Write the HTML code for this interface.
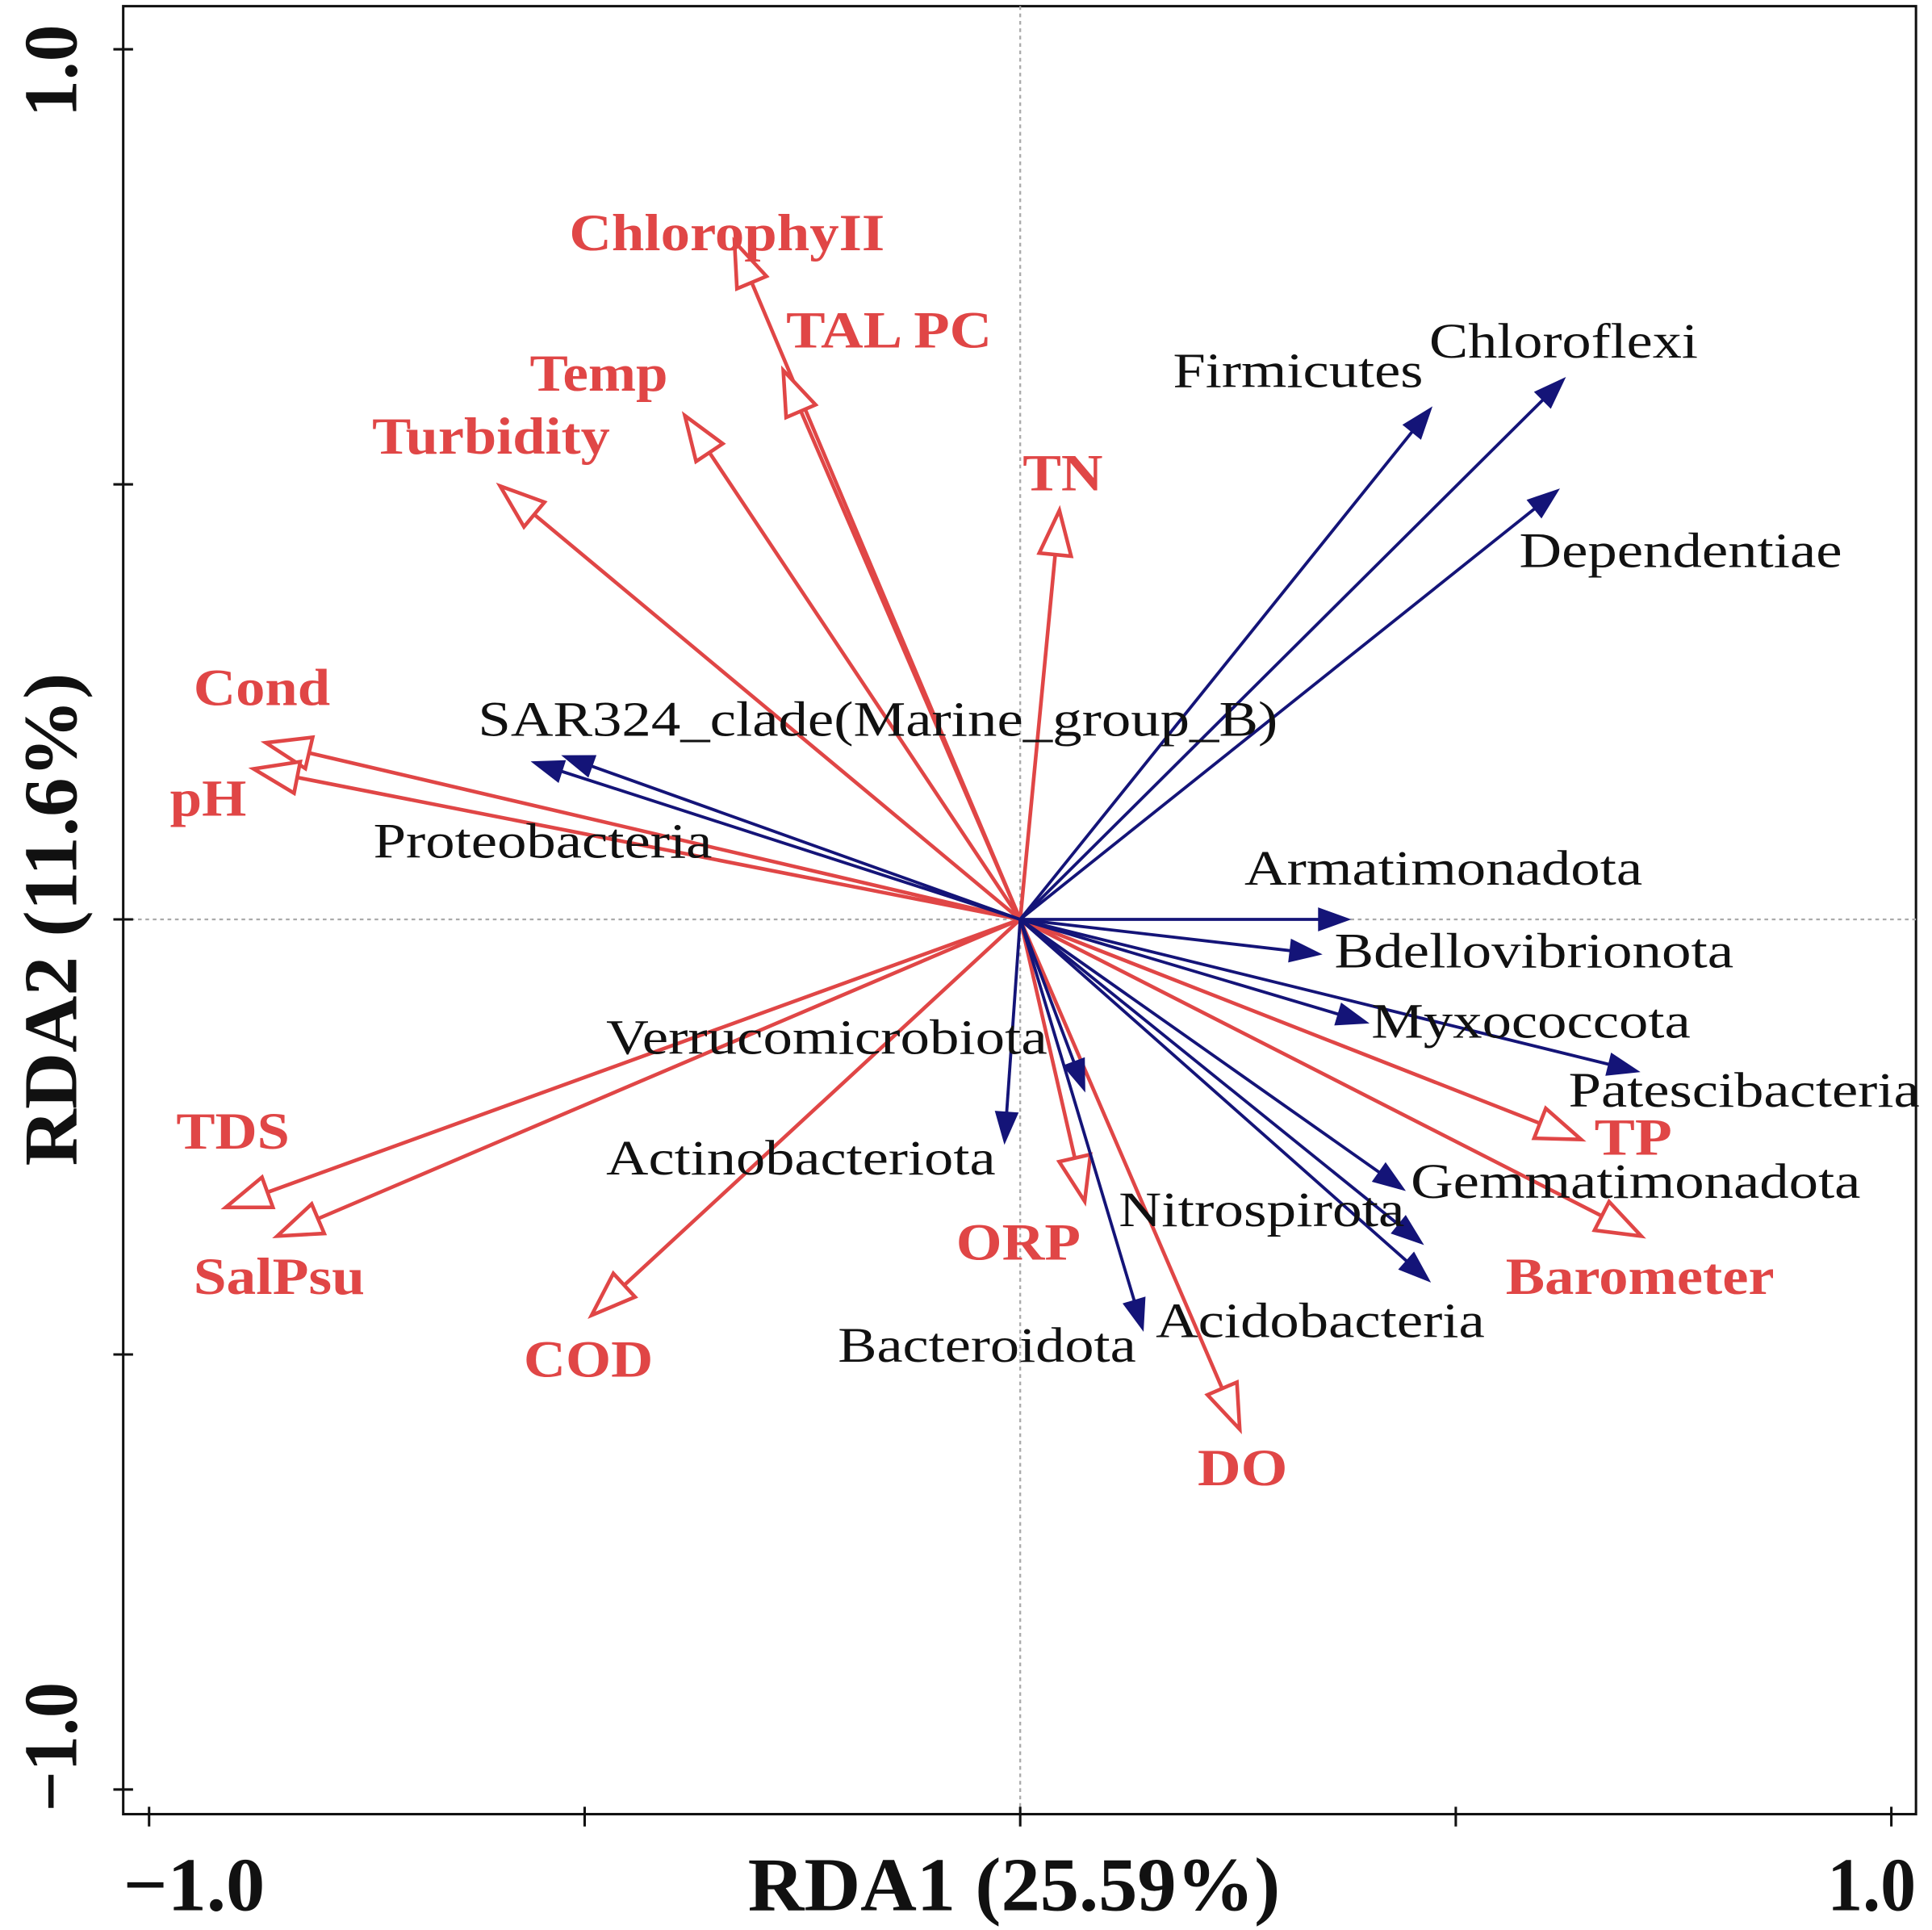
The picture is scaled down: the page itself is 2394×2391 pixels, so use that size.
<!DOCTYPE html>
<html><head><meta charset="utf-8"><style>
html,body{margin:0;padding:0;background:#fff}
svg{display:block}
.red{font-family:"Liberation Serif",serif;font-weight:bold;fill:#e04646;font-size:42px}
.blk{font-family:"Liberation Serif",serif;fill:#111;font-size:40px}
.ax{font-family:"Liberation Serif",serif;font-weight:bold;fill:#111;font-size:62px}
</style></head><body>
<svg id="chart" width="2394" height="2391" viewBox="0 0 1568 1566" preserveAspectRatio="none" xmlns="http://www.w3.org/2000/svg">
<rect x="100" y="5" width="1455" height="1467" fill="none" stroke="#111" stroke-width="2"/>
<g id="axes"></g>
<g id="arrows"></g>
<g id="labels"></g>
</svg>
<script>
const envNames=["ChlorophyII","TAL PC","Temp","Turbidity","TN","Cond","pH","TDS","SalPsu","COD","ORP","DO","TP","Barometer"];
const envX=[-0.328,-0.272,-0.385,-0.597,0.045,-0.866,-0.880,-0.912,-0.853,-0.492,0.074,0.252,0.644,0.713];
const envY=[0.779,0.631,0.579,0.498,0.470,0.203,0.173,-0.331,-0.364,-0.455,-0.324,-0.586,-0.253,-0.364];
const envLabelX=[462,638,430,302,830,157,138,143,157,425,776,972,1294,1222];
const envLabelY=[203,282,317,368,398,572,662,932,1050,1117,1022,1205,937,1050];
const envLabelW=[256,167,112,193,65,111,62,92,139,105,101,73,63,218];
const spNames=["Firmicutes","Chloroflexi","Dependentiae","SAR324_clade(Marine_group_B)","Proteobacteria","Armatimonadota","Bdellovibrionota","Myxococcota","Patescibacteria","Gemmatimonadota","Nitrospirota","Acidobacteria","Verrucomicrobiota","Actinobacteriota","Bacteroidota"];
const spX=[0.472,0.625,0.618,-0.525,-0.560,0.378,0.345,0.399,0.710,0.441,0.462,0.470,0.074,-0.018,0.141];
const spY=[0.588,0.622,0.494,0.188,0.181,0.0,-0.040,-0.119,-0.175,-0.311,-0.373,-0.416,-0.197,-0.257,-0.472];
const spLabelX=[952,1160,1233,388,303,1010,1083,1113,1273,1145,908,938,492,492,680];
const spLabelY=[314,290,460,597,696,718,785,842,898,972,995,1085,855,953,1105];
const spLabelW=[203,218,262,649,275,323,324,259,285,365,232,267,358,316,242];
const xTicks=[-1,-0.5,0,0.5,1];
const yTicks=[1,0.5,0,-0.5,-1];
const xs=v=>828+v*707, ys=v=>746-v*706;
const NS="http://www.w3.org/2000/svg";
function mk(t,a,p){const e=document.createElementNS(NS,t);for(const k in a)e.setAttribute(k,a[k]);p.appendChild(e);return e;}
const ax=document.getElementById('axes'),ar=document.getElementById('arrows'),lb=document.getElementById('labels');
let l=mk('line',{x1:xs(0),y1:5,x2:xs(0),y2:1472,stroke:'#aaa','stroke-width':1.5,'stroke-dasharray':'3 3'},ax);

l=mk('line',{x1:100,y1:ys(0),x2:1555,y2:ys(0),stroke:'#aaa','stroke-width':1.5,'stroke-dasharray':'3 3'},ax);

xTicks.forEach(v=>{const t=mk('line',{x1:xs(v),y1:1466,x2:xs(v),y2:1482,stroke:'#111','stroke-width':2},ax);
});
yTicks.forEach(v=>{const t=mk('line',{x1:92,y1:ys(v),x2:108,y2:ys(v),stroke:'#111','stroke-width':2},ax);
});
function txt(s,x,y,cls,w,name,extra){const e=mk('text',Object.assign({x:x,y:y,class:cls},extra||{}),lb);e.textContent=s;
if(w){e.setAttribute('textLength',w);e.setAttribute('lengthAdjust','spacingAndGlyphs');}
return e;}
txt('\u22121.0',100,1550,'ax',115,'x-tick-label-min');
txt('1.0',1483,1550,'ax',72,'x-tick-label-max');
txt('RDA1 (25.59%)',607,1550,'ax',432,'x-axis-title');
txt('1.0',0,0,'ax',75,'y-tick-label-max',{transform:'translate(62,95) rotate(-90)'});
txt('\u22121.0',0,0,'ax',105,'y-tick-label-min',{transform:'translate(62,1470) rotate(-90)'});
txt('RDA2 (11.6%)',0,0,'ax',400,'y-axis-title',{transform:'translate(62,946) rotate(-90)'});
function arrow(x,y,color,open,name){
 const X=xs(x),Y=ys(y),dx=X-828,dy=Y-746,L=Math.hypot(dx,dy),ux=dx/L,uy=dy/L;
 const hl=open?36:25,hw=open?13:9;const bx=X-ux*hl,by=Y-uy*hl;
 const g=mk('g',{},ar);
 mk('line',{x1:828,y1:746,x2:open?bx:bx+ux*4,y2:open?by:by+uy*4,stroke:color,'stroke-width':open?3:2.5},g);
 mk('polygon',{points:`${X},${Y} ${bx-uy*hw},${by+ux*hw} ${bx+uy*hw},${by-ux*hw}`,fill:open?'#fff':color,stroke:color,'stroke-width':open?3:1},g);
}
envNames.forEach((n,i)=>{arrow(envX[i],envY[i],'#e04646',true,'env-arrow-'+n.toLowerCase().replace(/\W+/g,'-'));
 txt(n,envLabelX[i],envLabelY[i],'red',envLabelW[i],'env-label-'+n.toLowerCase().replace(/\W+/g,'-'));});
spNames.forEach((n,i)=>{arrow(spX[i],spY[i],'#141478',false,'taxon-arrow-'+n.toLowerCase().replace(/\W+/g,'-'));
 txt(n,spLabelX[i],spLabelY[i],'blk',spLabelW[i],'taxon-label-'+n.toLowerCase().replace(/\W+/g,'-'));});
</script>
</body></html>
